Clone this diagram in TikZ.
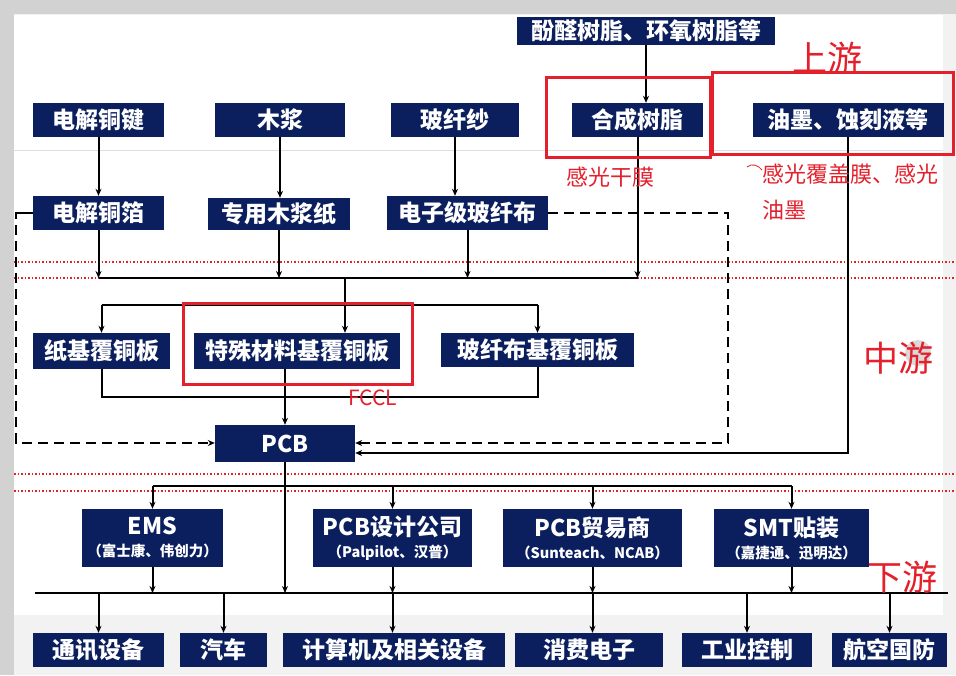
\documentclass[tikz,border=0pt]{standalone}
\usepackage{fontspec}
\setmainfont{Noto Sans CJK SC}
\usetikzlibrary{arrows.meta}
\definecolor{navy}{HTML}{0B1F5E}
\definecolor{myred}{HTML}{E3202B}
\newcommand\subtx{\fontsize{14.5}{16}\selectfont\bfseries}
\tikzset{
 box/.style={fill=navy, text=white, font=\fontsize{23}{25}\selectfont\bfseries, inner sep=0pt, align=center},
 sz/.style 2 args={minimum width=#1pt, minimum height=#2pt},
 arr/.style={line width=2pt, -{Stealth[length=7pt,width=6pt]}},
 ln/.style={line width=2pt},
 dsh/.style={line width=2.6pt, dash pattern=on 10pt off 6pt, -{Stealth[length=7pt,width=6pt]}},
 redbox/.style={draw=myred, line width=3pt},
 reddot/.style={draw=myred, line width=1.5pt, dash pattern=on 1.5pt off 2pt},
 redtxt/.style={text=myred, font=\fontsize{22}{36}\selectfont, inner sep=0pt},
 stage/.style={text=myred, font=\fontsize{35}{37}\selectfont, inner sep=0pt},
}
\begin{document}
\begin{tikzpicture}[x=1pt,y=-1pt]
\useasboundingbox (0,0) rectangle (956,675);
% frame
\fill[gray!10] (0,0) rectangle (956,675);
\fill[gray!35] (0,0) rectangle (956,14);
\fill[gray!35] (0,0) rectangle (14,675);
\fill[white] (14,15) rectangle (943,615);
\draw[gray!25, line width=1pt] (14,150) -- (943,150);
% red dotted separators
\foreach \yy in {262,278,474,491} \draw[reddot] (14,\yy) -- (956,\yy);
% nodes
\node[box, sz={258}{28}] (resin) at (646,31) {酚醛树脂、环氧树脂等};
\node[box, sz={131}{34}] (cuj) at (98.5,120) {电解铜键};
\node[box, sz={130}{34}] (mj) at (280,120) {木浆};
\node[box, sz={128}{34}] (bxs) at (455,120) {玻纤纱};
\node[box, sz={131}{34}] (hcsz) at (637.5,120) {合成树脂};
\node[box, sz={191}{34}] (ym) at (848,120) {油墨、蚀刻液等};
\node[box, sz={131}{34}] (cuf) at (98.5,213) {电解铜箔};
\node[box, sz={142}{32}] (mjz) at (279,214) {专用木浆纸};
\node[box, sz={161}{34}] (bxb) at (467.5,213) {电子级玻纤布};
\node[box, sz={137}{36}] (zj) at (101.5,351) {纸基覆铜板};
\node[box, sz={206}{36}] (ts) at (297,351) {特殊材料基覆铜板};
\node[box, sz={193}{34}] (bxbj) at (537.5,350) {玻纤布基覆铜板};
\node[box, sz={140}{37}] (pcb) at (285,443.5) {PCB};
\node[box, sz={141}{58}] (ems) at (152.5,538) {EMS\\[-3pt]{\subtx （富士康、伟创力）}};
\node[box, sz={159}{58}] (pcbd) at (392.5,538) {PCB设计公司\\[-3pt]{\subtx （Palpilot、汉普）}};
\node[box, sz={179}{58}] (pcbt) at (592.5,538) {PCB贸易商\\[-3pt]{\subtx （Sunteach、NCAB）}};
\node[box, sz={155}{58}] (smt) at (791.5,538) {SMT贴装\\[-3pt]{\subtx （嘉捷通、迅明达）}};
\node[box, sz={131}{34}] (tx) at (98.5,650) {通讯设备};
\node[box, sz={87}{34}] (qc) at (223.5,650) {汽车};
\node[box, sz={222}{34}] (jsj) at (394,650) {计算机及相关设备};
\node[box, sz={148}{34}] (xf) at (589,650) {消费电子};
\node[box, sz={130}{34}] (gy) at (747,650) {工业控制};
\node[box, sz={115}{34}] (hk) at (889.5,650) {航空国防};
% junction coordinates
\coordinate (b1) at (345,278);
\coordinate (d1) at (345,305);
\coordinate (c2) at (285,397);
\coordinate (dl) at (16,443);
\coordinate (dr) at (728,443);
\coordinate (sr) at (848,453);
\coordinate (d3) at (285,486);
\coordinate (b4) at (285,593);
\coordinate (bl) at (35,593);
\coordinate (br) at (948,593);
% upstream connectors
\draw[arr] (cuj.south) -- (cuj.south |- cuf.north);
\draw[arr] (mj.south) -- (mj.south |- mjz.north);
\draw[arr] (bxs.south) -- (bxs.south |- bxb.north);
\draw[arr] (resin.south) -- (resin.south |- hcsz.north);
\draw[ln] (cuf.south |- b1) -- (hcsz.south |- b1);
\draw[arr] (cuf.south) -- (cuf.south |- b1);
\draw[arr] (mjz.south) -- (mjz.south |- b1);
\draw[arr] (bxb.south) -- (bxb.south |- b1);
\draw[arr] (hcsz.south) -- (hcsz.south |- b1);
% midstream
\draw[ln] (b1) -- (d1);
\draw[ln] (zj.north |- d1) -- (bxbj.north |- d1);
\draw[arr] (zj.north |- d1) -- (zj.north);
\draw[arr] (d1) -- (d1 |- ts.north);
\draw[arr] (bxbj.north |- d1) -- (bxbj.north);
\draw[ln] (zj.south) -- (zj.south |- c2) -- (bxbj.south |- c2) -- (bxbj.south);
\draw[arr] (pcb.north |- ts.south) -- (pcb.north);
\draw[line width=2pt] (cuf.west) -- ++(-13,0);
\draw[dsh] (cuf.west) ++(-13,0) -| (dl) -- (dl -| pcb.west);
\draw[dsh] (bxb.east) -| (dr) -- (dr -| pcb.east);
\draw[arr] (ym.south) -- (ym.south |- sr) -- (sr -| pcb.east);
% downstream
\draw[ln] (pcb.south) -- (d3);
\draw[ln] (d3 -| ems.north) -- (d3 -| smt.north);
\draw[arr] (d3 -| ems.north) -- (ems.north);
\draw[arr] (d3 -| pcbd.north) -- (pcbd.north);
\draw[arr] (d3 -| pcbt.north) -- (pcbt.north);
\draw[arr] (d3 -| smt.north) -- (smt.north);
\draw[arr] (d3) -- (b4);
\draw[ln] (bl) -- (br);
\draw[arr] (ems.south) -- (ems.south |- b4);
\draw[arr] (pcbd.south) -- (pcbd.south |- b4);
\draw[arr] (pcbt.south) -- (pcbt.south |- b4);
\draw[arr] (smt.south) -- (smt.south |- b4);
\draw[arr] (tx.north |- b4) -- (tx.north);
\draw[arr] (qc.north |- b4) -- (qc.north);
\draw[arr] (pcbd.south |- b4) -- (pcbd.south |- jsj.north);
\draw[arr] (pcbt.south |- b4) -- (pcbt.south |- xf.north);
\draw[arr] (gy.north |- b4) -- (gy.north);
\draw[arr] (hk.north |- b4) -- (hk.north);
% red highlight boxes
\draw[redbox] (546,77) rectangle (710,157);
\draw[redbox] (712,72) rectangle (953,154);
\draw[redbox] (183,303) rectangle (412,384);
% red annotations
\node[redtxt, anchor=west] (t1) at (566,177) {感光干膜};
\node[redtxt, anchor=north west, align=left] (t2) at (762,164) {感光覆盖膜、感光\\油墨};
\draw[myred, line width=0.8pt] (747,167) .. controls (752,163) and (758,165) .. (762,170);
\node[text=myred, font=\fontsize{21}{24}\selectfont, inner sep=0pt, anchor=west] (fccl) at (348,398) {FCCL};
\fill[gray!30] (918,353) circle (13);
\node[stage] (s1) at (827,58) {上游};
\node[stage] (s2) at (898,358) {中游};
\node[stage] (s3) at (902,577) {下游};
\end{tikzpicture}
\end{document}
